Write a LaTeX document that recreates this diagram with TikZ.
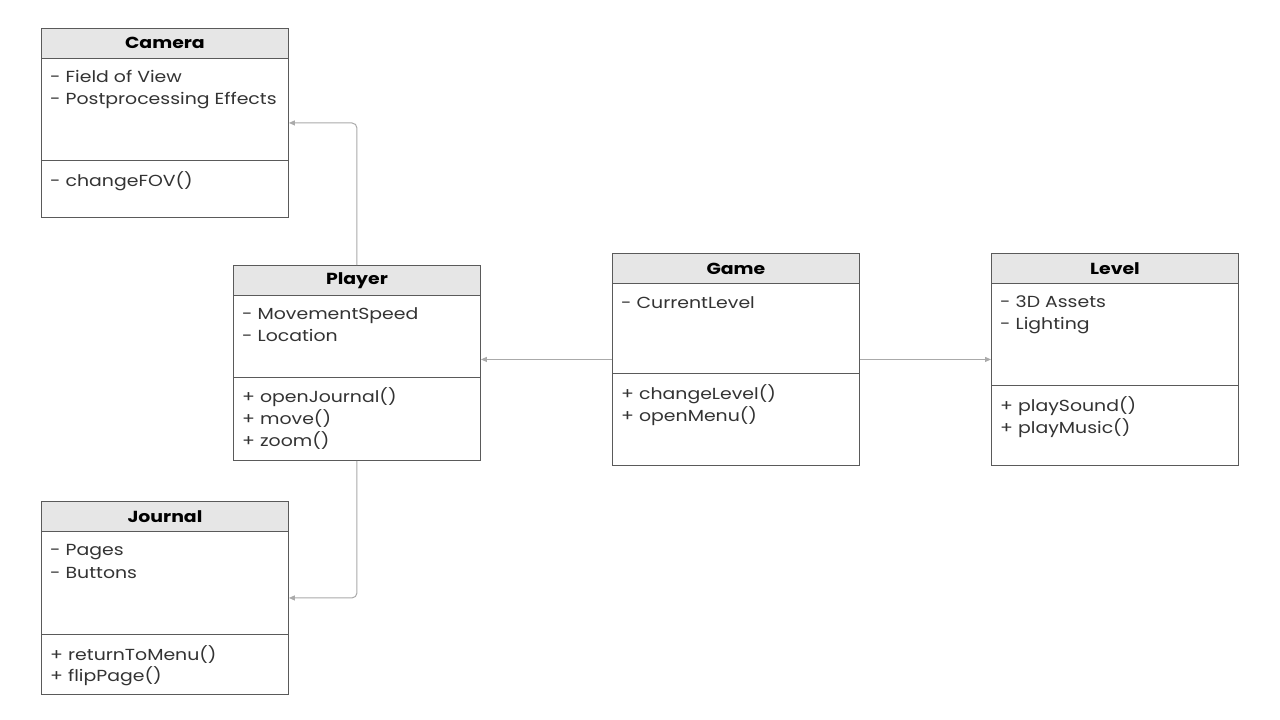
\documentclass[tikz,border=0pt]{standalone}
\usepackage{fontspec}
\setmainfont{Poppins}[FakeStretch=1.18]
\usetikzlibrary{arrows.meta}
\definecolor{edgec}{HTML}{5A5A5A}
\definecolor{headc}{HTML}{E6E6E6}
\definecolor{txtc}{HTML}{333333}
\definecolor{linkc}{HTML}{AAAAAA}
\tikzset{
 classbox/.style={draw=edgec, line width=0.9pt, fill=white, anchor=north west, minimum width=247pt, inner sep=0pt},
 header/.style={draw=edgec, line width=0.9pt, fill=headc, anchor=north west, minimum width=247pt, minimum height=29.5pt, inner sep=0pt, font=\fontsize{16}{16}\selectfont\bfseries, text=black},
 member/.style={anchor=base west, inner sep=0pt, font=\fontsize{16}{16}\selectfont, text=txtc},
 divider/.style={draw=edgec, line width=0.9pt},
 link/.style={draw=linkc, line width=1pt, rounded corners=5pt, -{Triangle[length=6pt,width=5pt]}},
}
\begin{document}
\begin{tikzpicture}[x=1pt,y=-1pt]
\useasboundingbox[fill=white] (0,0) rectangle (1280,720);
% Camera
\node[classbox, minimum height=189pt] (camera) at (41,28) {};
\node[header] (camerahead) at (41,28) {Camera};
\draw[divider] (camera.west |- 0,160) -- (camera.east |- 0,160);
\node[member] (cama1) at (50,82) {- Field of View};
\node[member] (cama2) at (50,104) {- Postprocessing Effects};
\node[member] (camm1) at (50,186) {- changeFOV()};
% Player
\node[classbox, minimum height=195pt] (player) at (233,265) {};
\node[header] (playerhead) at (233,265) {Player};
\draw[divider] (player.west |- 0,377) -- (player.east |- 0,377);
\node[member] (pla1) at (242,319) {- MovementSpeed};
\node[member] (pla2) at (242,341) {- Location};
\node[member] (plm1) at (242,402) {+ openJournal()};
\node[member] (plm2) at (242,424) {+ move()};
\node[member] (plm3) at (242,446) {+ zoom()};
% Journal
\node[classbox, minimum height=193pt] (journal) at (41,501) {};
\node[header] (journalhead) at (41,501) {Journal};
\draw[divider] (journal.west |- 0,634) -- (journal.east |- 0,634);
\node[member] (joa1) at (50,555) {- Pages};
\node[member] (joa2) at (50,578) {- Buttons};
\node[member] (jom1) at (50,660) {+ returnToMenu()};
\node[member] (jom2) at (50,681) {+ flipPage()};
% Game
\node[classbox, minimum height=212pt] (game) at (612,253) {};
\node[header, minimum height=30pt] (gamehead) at (612,253) {Game};
\draw[divider] (game.west |- 0,373) -- (game.east |- 0,373);
\node[member] (gaa1) at (621,308) {- CurrentLevel};
\node[member] (gam1) at (621,399) {+ changeLevel()};
\node[member] (gam2) at (621,421) {+ openMenu()};
% Level
\node[classbox, minimum height=212pt] (level) at (991,253) {};
\node[header, minimum height=30pt] (levelhead) at (991,253) {Level};
\draw[divider] (level.west |- 0,385) -- (level.east |- 0,385);
\node[member] (lea1) at (1000,307) {- 3D Assets};
\node[member] (lea2) at (1000,329) {- Lighting};
\node[member] (lem1) at (1000,411) {+ playSound()};
\node[member] (lem2) at (1000,433) {+ playMusic()};
% Links
\draw[link] (player.north) |- (camera.east);
\draw[link] (player.south) |- (journal.east);
\draw[link] (game.west) -- (game.west -| player.east);
\draw[link] (game.east) -- (level.west);
\end{tikzpicture}
\end{document}
